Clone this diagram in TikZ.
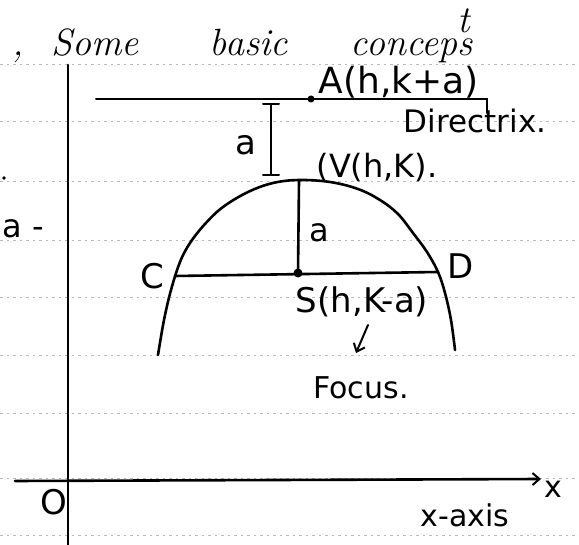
\documentclass[tikz,border=0pt]{standalone}
\usepackage{fontspec}
\usetikzlibrary{arrows.meta}
\newfontfamily\lab{DejaVu Sans}
\tikzset{
  ink/.style={line width=2.6pt, line cap=round, line join=round, black},
  thin ink/.style={line width=2pt, line cap=round, black},
  ruled/.style={gray!55, line width=0.7pt, dash pattern=on 2.5pt off 4pt},
  lbl/.style={inner sep=0pt, font=\lab\fontsize{#1}{#1}\selectfont},
  lbl/.default=32,
  barb/.style={-{Straight Barb[length=7pt,width=12pt,line width=2pt]}}
}
\begin{document}
\begin{tikzpicture}[x=1pt,y=-1pt]
\useasboundingbox (0,0) rectangle (579,545);
% notebook rulings
\foreach \yy in {64,121,181,240,297,355,413,478,535}
  \draw[ruled] (0,\yy) -- (579,\yy);
% title
\node[anchor=base west, inner sep=0pt, font=\fontsize{38}{38}\selectfont\itshape] (title) at (12,56)
  {,\hspace{28pt}Some\hspace{71pt}basic\hspace{63pt}concep\makebox[0pt][l]{\raisebox{0.62em}{t}}s};
% axes
\coordinate (yt) at (68,65);
\coordinate (yb) at (68,545);
\coordinate (xl) at (15,481);
\coordinate (xr) at (541,479);
\draw[ink] (yt) -- (yb);
\draw[ink, barb] (xl) -- (xr);
\node[lbl=30] (xlab) at (553,489) {x};
\node[lbl=34] (O) at (54,502) {O};
\node[lbl=30] (xaxis) at (465,515) {x-axis};
% directrix
\coordinate (dl) at (96,99);
\coordinate (dr) at (487,99);
\coordinate (drt) at (487,113);
\draw[thin ink] (dl) -- (dr) -- (drt);
\coordinate (A) at (311,99);
\fill (A) circle (3.5pt);
\node[lbl=36] (Alab) at (399,82) {A(h,k+a)};
\node[lbl=31] (dirlab) at (475,121) {Directrix.};
% bracket a
\coordinate (bt) at (271,104);
\coordinate (bb) at (271,175);
\draw[thin ink] (bt) -- (bb);
\draw[thin ink] (263,104) -- (279,104);
\draw[thin ink] (263,175) -- (279,175);
\node[lbl=34] (a1) at (246,145) {a};
% parabola
\draw[ink] plot[smooth, tension=0.6] coordinates {(158,355) (164,320) (171,290) (180,262) (190,243) (205,224) (223,207) (248,192) (273,183) (299,180) (330,182) (358,189) (380,200) (398,214) (413,233) (427,252) (438,272) (445,293) (451,320) (455,350)};
% vertex, focus, latus rectum
\coordinate (V) at (299,181);
\coordinate (S) at (298,273);
\coordinate (C) at (175,276);
\coordinate (D) at (438,272);
\draw[ink] (V) -- (S);
\draw[ink] (C) -- (D);
\fill (S) circle (4.5pt);
\node[lbl=32] (Vlab) at (377,167) {(V(h,K).};
\node[lbl=32] (a2) at (319,233) {a};
\node[lbl=34] (Clab) at (152,276) {C};
\node[lbl=34] (Dlab) at (461,266) {D};
\node[lbl=34] (Slab) at (362,302) {S(h,K-a)};
\coordinate (fa) at (368,325);
\coordinate (fb) at (356,353);
\draw[thin ink, barb] (fa) -- (fb);
\node[lbl=30] (focus) at (361,388) {Focus.};
\node[lbl=32] (aminus) at (23,229) {a -};
\fill (4,178) circle (1.8pt);
\end{tikzpicture}
\end{document}
